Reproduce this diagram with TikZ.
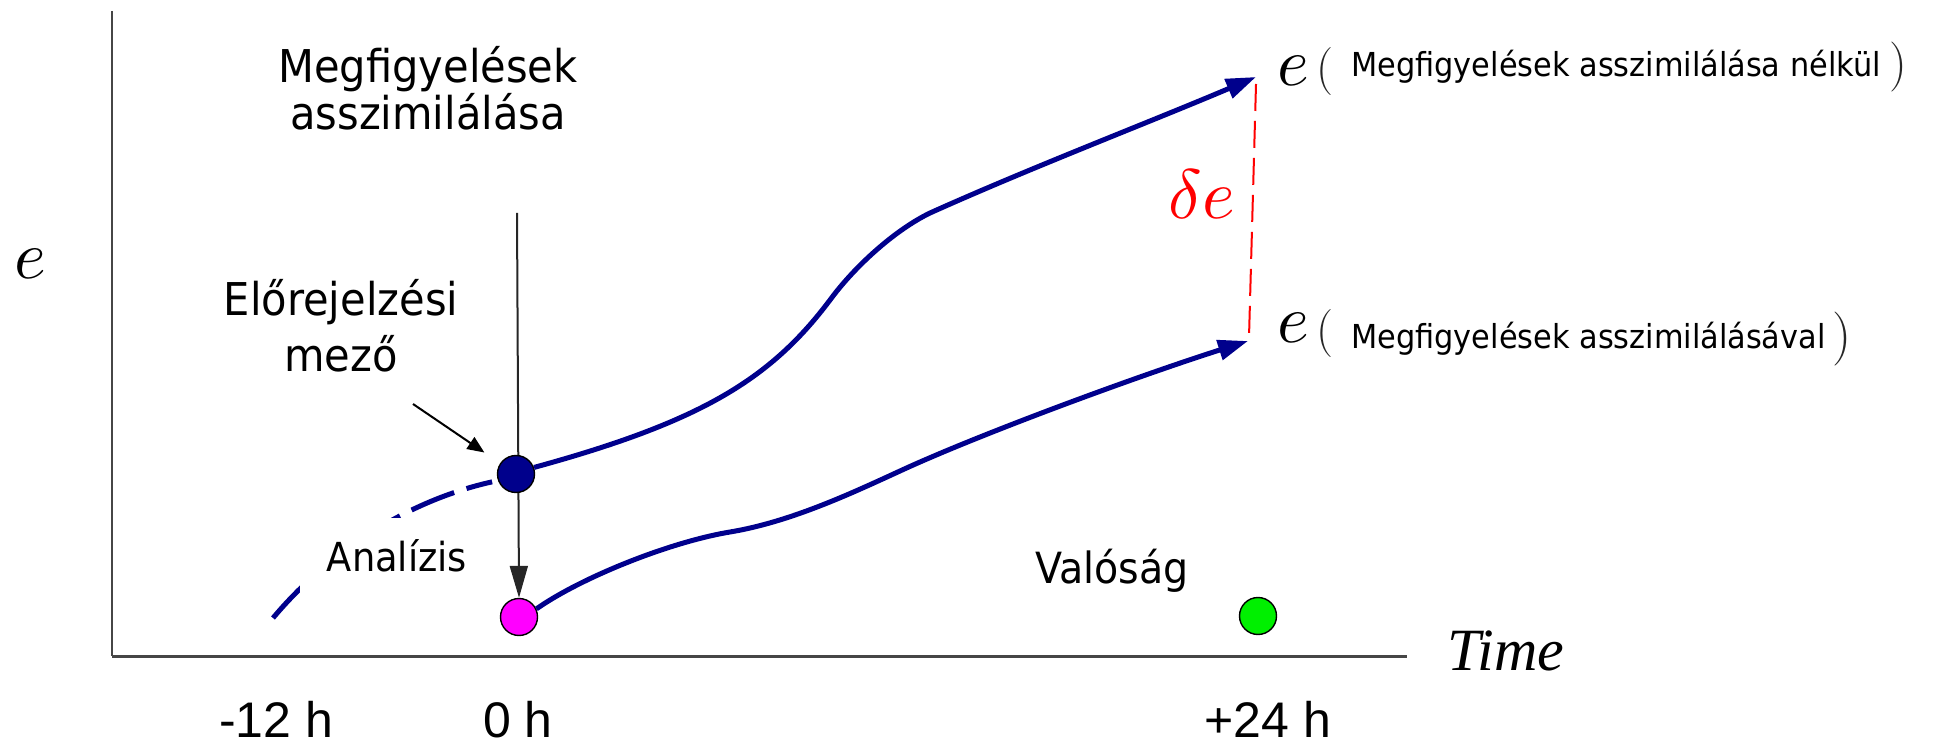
\RequirePackage{fix-cm}
\documentclass[tikz,border=0pt]{standalone}
\usepackage{fontspec}
\usetikzlibrary{arrows.meta,backgrounds}
\newfontfamily\lblfont[FakeStretch=0.92]{DejaVu Sans}
\newfontfamily\arialfont{Liberation Sans}
\newfontfamily\timesfont{Liberation Serif}
\definecolor{navy}{RGB}{0,0,140}
\definecolor{magentadot}{RGB}{255,0,255}
\definecolor{greendot}{RGB}{0,240,0}
\definecolor{axisgray}{RGB}{70,70,70}
\newcommand{\bigmath}[2]{\scalebox{#1}{\fontsize{10}{12}\selectfont$#2$}}
\begin{document}
\begin{tikzpicture}[x=0.5pt,y=-0.5pt,
  biglbl/.style={font=\lblfont\fontsize{22.6}{23.5}\selectfont, inner sep=0pt},
  smalllbl/.style={font=\lblfont\fontsize{16.5}{18}\selectfont, inner sep=0pt},
  hourlbl/.style={font=\arialfont\fontsize{25}{25}\selectfont, inner sep=0pt},
  mathlbl/.style={inner sep=0pt},
  parenlbl/.style={font=\fontsize{24}{24}\selectfont, inner sep=0pt, text=black!85},
  ptdot/.style={circle, draw=black, line width=0.7pt, minimum size=18.5pt, inner sep=0pt},
  bluecurve/.style={draw=navy, line width=2.5pt, -{Triangle[length=15pt,width=10pt]}},
  bluedash/.style={draw=navy, line width=2.5pt, dash pattern=on 23pt off 6.5pt},
  obsarrow/.style={draw=black!85, line width=1pt, -{Triangle[length=16pt,width=9pt]}},
  ptrarrow/.style={draw=black, line width=1pt, -{Triangle[length=8.5pt,width=7pt]}},
  reddash/.style={draw=red, line width=1pt, dash pattern=on 13.5pt off 5pt},
  axisY/.style={draw=axisgray, line width=1pt},
  axisX/.style={draw=axisgray, line width=1.5pt}]
\useasboundingbox (0,0) rectangle (1952,747);

% axes
\coordinate (yTop) at (112,11);
\coordinate (origin) at (112,656);
\coordinate (xEnd) at (1407,656);
\draw[axisY] (yTop) -- (origin);
\draw[axisX] (origin) -- (xEnd);

% axis labels
\node[mathlbl, anchor=base] (elab) at (30,279) {\bigmath{3.4}{e}};
\node[font=\timesfont\itshape\fontsize{30}{30}\selectfont, inner sep=0pt, anchor=base west] (time) at (1447,670) {Time};
\node[hourlbl, anchor=base] (m12) at (276,737) {-12 h};
\node[hourlbl, anchor=base] (h0) at (518,737) {0 h};
\node[hourlbl, anchor=base] (p24) at (1268,737) {+24 h};

% points
\node[ptdot, fill=navy] (fc) at (516,474) {};
\node[ptdot, fill=magentadot] (pk) at (519,617) {};
\node[ptdot, fill=greendot] (gr) at (1258,616) {};

% text labels
\node[biglbl, align=center, anchor=base] (obs) at (428,130) {Megfigyelések\\asszimilálása};
\node[font=\lblfont\fontsize{22.6}{28}\selectfont, inner sep=0pt, align=center, anchor=base] (fcl) at (341,372) {Előrejelzési\\mező};
\node[font=\lblfont\fontsize{21.5}{22}\selectfont, inner sep=0pt, anchor=base] (val) at (1112,583) {Valóság};

% end labels
\coordinate (tipU) at (1256,77);
\coordinate (tipL) at (1248,341);
\node[mathlbl, anchor=base west] (e1) at (1277,86) {\bigmath{3.4}{e}};
\node[parenlbl] (lp1) at (1325,72) {(};
\node[smalllbl, anchor=base west] (t1) at (1351,77) {Megfigyelések asszimilálása nélkül};
\node[parenlbl, font=\fontsize{25}{25}\selectfont, anchor=west, xshift=4pt] (rp1) at (t1.east) {)};
\node[mathlbl, anchor=base west] (e2) at (1277,343) {\bigmath{3.4}{e}};
\node[parenlbl] (lp2) at (1325,334) {(};
\node[smalllbl, anchor=base west] (t2) at (1351,349) {Megfigyelések asszimilálásával};
\node[parenlbl, font=\fontsize{27}{27}\selectfont, anchor=west, xshift=3pt] (rp2) at (t2.east) {)};
\node[mathlbl, text=red] (de) at (1202,194) {\bigmath{3.5}{\delta e}};

% connectors
\coordinate (obsTop) at (517,213);
\coordinate (mzA) at (413,404);
\coordinate (dStart) at (273,618);
\coordinate (deTop) at (1256,84);
\coordinate (deBot) at (1249,337);
\begin{pgfonlayer}{background}
\draw[obsarrow] (obsTop) -- (pk.north);
\draw[bluedash, shorten >=3pt] (dStart) .. controls (330,550) and (410,500) .. (fc.200);
\end{pgfonlayer}
\draw[ptrarrow, shorten >=9.5pt] (mzA) -- (fc);
\draw[bluecurve] (fc.20) .. controls (700,422) and (770,380) .. (830,300)
   .. controls (855,266) and (895,230) .. (930,213)
   .. controls (1030,168) and (1150,122) .. (tipU);
\draw[bluecurve] (pk.25) .. controls (582,577) and (670,542) .. (730,532)
   .. controls (790,522) and (850,494) .. (900,471)
   .. controls (980,434) and (1138,376) .. (tipL);
\draw[reddash] (deTop) -- (deBot);

\node[font=\lblfont\fontsize{20}{20}\selectfont, fill=white, inner sep=0pt, minimum width=97pt, minimum height=38pt] (ana) at (397,556) {Analízis};
\end{tikzpicture}
\end{document}
